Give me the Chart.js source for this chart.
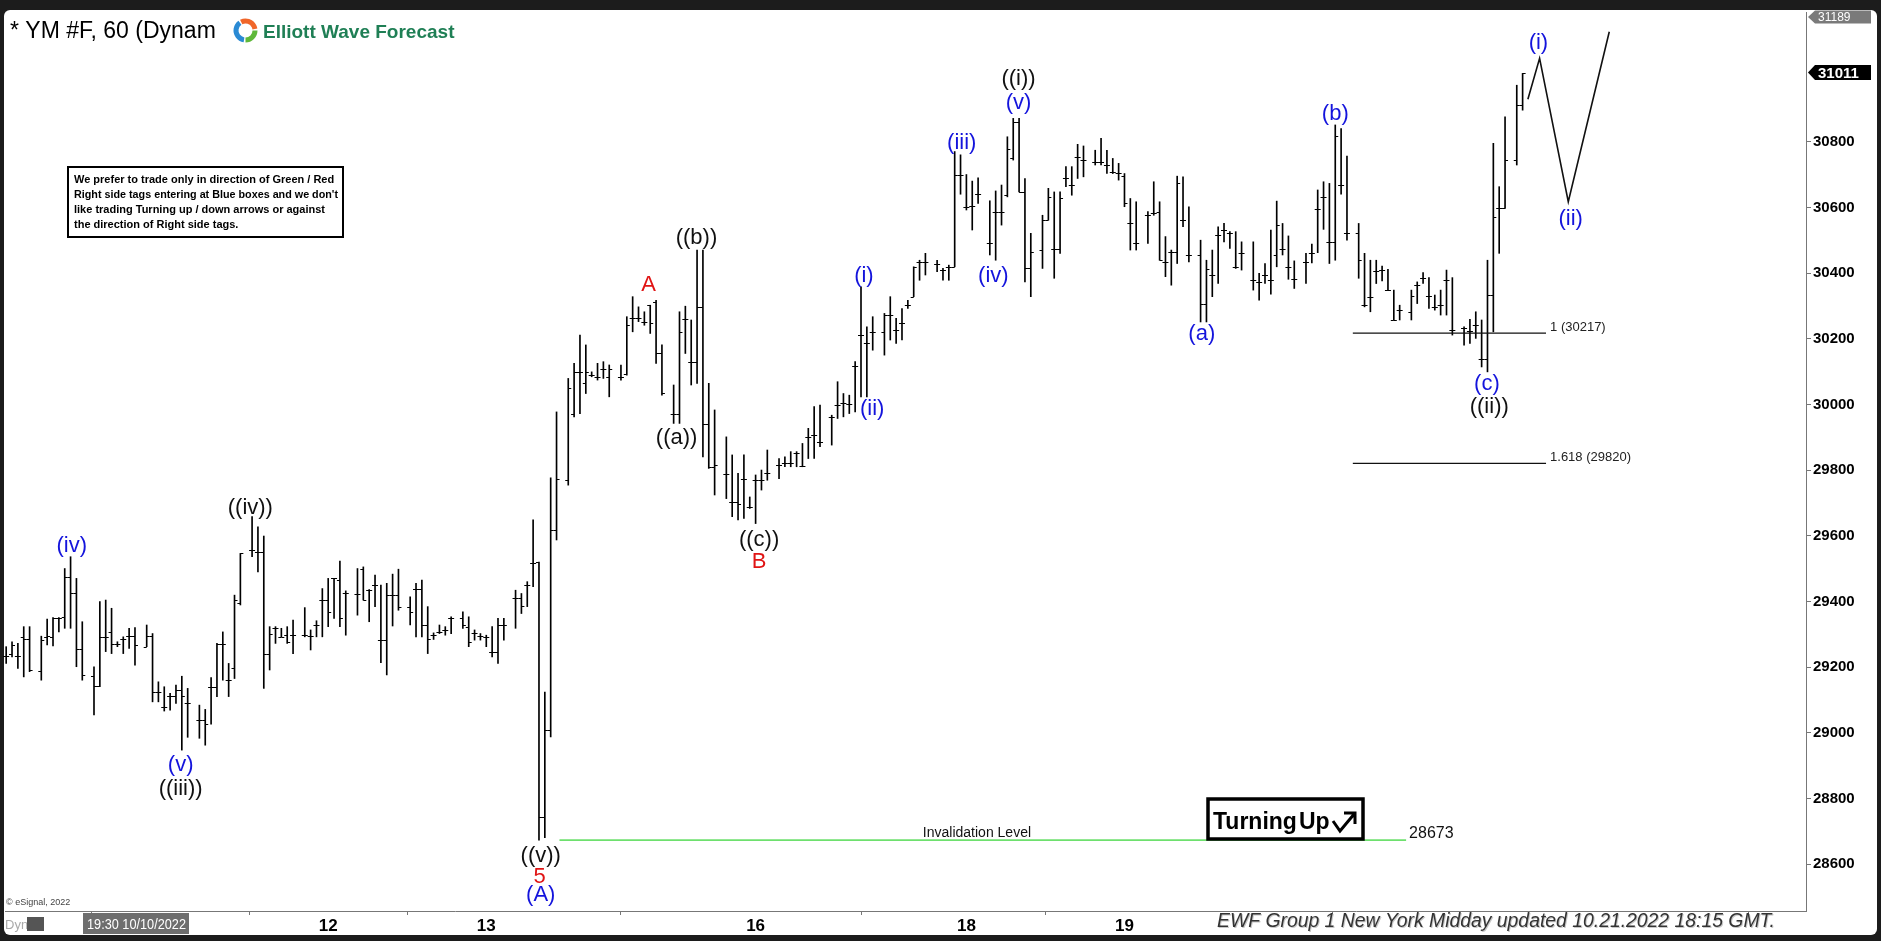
<!DOCTYPE html>
<html>
<head>
<meta charset="utf-8">
<title>YM #F, 60</title>
<script src="https://cdn.jsdelivr.net/npm/chart.js@4.4.1/dist/chart.umd.min.js"></script>
<style>
  html, body { margin: 0; padding: 0; background: #1c1c1c; overflow: hidden; }
  canvas { display: block; }
</style>
</head>
<body>
<canvas id="myChart" width="1881" height="941"></canvas>
<script>
// YM #F hourly bars (null = no bar printed at that slot)
const opens = [
  29233, 29239, 29233, 29290, 29284, null, 29189, 29290, 29292, 29348,
  29353, 29473, 29426, 29254, null, 29172, 29142, 29290, 29307, 29270,
  29284, 29294, 29294, null, 29262, 29294, 29125, 29079, 29112, 29112,
  29130, 29091, null, 29040, 29040, 29138, 29138, 29270, 29160, 29196,
  29394, null, 29556, 29551, 29551, 29241, 29318, 29292, 29297, 29297,
  null, 29297, 29294, 29328, 29404, 29404, 29470, 29465, 29424, null,
  29422, 29500, 29434, 29450, 29282, 29282, 29419, 29419, null, 29382,
  29439, 29439, 29328, 29297, 29307, 29313, 29348, null, 29348, 29323,
  29304, 29294, 29292, 29247, 29247, 29328, null, 29409, 29409, 29450,
  29516, 29520, 28743, 29008, 29617, null, 29771, 29972, 30099, 30064,
  30089, 30084, 30109, 30084, null, 30084, 30094, 30262, 30262, 30252,
  30302, 30312, 30155, null, 29972, 29972, 30259, 30130, 30130, 30297,
  29940, 29810, null, 29788, 29703, 29703, 29774, 29688, 29769, 29769,
  29790, null, 29815, 29820, 29820, 29851, 29813, 29901, 29906, 29886,
  null, 29962, 29998, 30003, 30001, 30117, 30211, 30186, 30221, null,
  30221, 30272, 30226, 30247, 30302, 30328, 30434, 30434, null, 30429,
  30409, 30419, 30419, 30700, 30602, 30604, 30640, null, 30490, 30587,
  30587, 30637, 30749, 30861, 30647, 30414, null, 30470, 30563, 30472,
  30472, 30688, 30668, 30752, 30744, null, 30739, 30739, 30729, 30708,
  30705, 30695, 30551, 30490, null, 30576, 30582, 30587, 30434, 30465,
  30465, 30561, 30455, null, 30455, 30307, 30394, 30516, 30531, 30523,
  30419, 30460, null, 30378, 30373, 30394, 30378, 30455, 30472, 30419,
  30383, null, 30434, 30462, 30594, 30632, 30495, 30495, 30668, 30521,
  null, 30523, 30302, 30328, 30407, 30409, 30348, 30257, 30287, null,
  30282, 30363, 30386, 30330, 30297, 30302, 30378, 30228, null, 30234,
  30224, 30241, 30137, 30137, 30333, 30597, 30597, null, 30744, 30911
];
const highs = [
  29262, 29277, 29272, 29323, 29323, null, 29294, 29346, 29351, 29351,
  29500, 29536, 29470, 29338, null, 29201, 29399, 29404, 29379, 29277,
  29292, 29318, 29320, null, 29328, 29302, 29155, 29140, 29120, 29145,
  29172, 29135, null, 29084, 29071, 29168, 29272, 29307, 29211, 29419,
  29546, null, 29658, 29627, 29599, 29323, 29323, 29318, 29323, 29343,
  null, 29381, 29313, 29341, 29439, 29470, 29470, 29523, 29432, null,
  29500, 29505, 29436, 29480, 29450, 29455, 29483, 29498, null, 29414,
  29455, 29465, 29384, 29304, 29328, 29323, 29353, null, 29368, 29353,
  29313, 29302, 29297, 29323, 29348, 29348, null, 29434, 29424, 29460,
  29648, 29520, 29124, 29776, 29977, null, 30079, 30125, 30211, 30181,
  30099, 30125, 30130, 30120, null, 30120, 30267, 30328, 30297, 30282,
  30302, 30317, 30181, null, 30059, 30282, 30299, 30257, 30470, 30470,
  30064, 29983, null, 29901, 29846, 29790, 29846, 29718, 29785, 29800,
  29861, null, 29835, 29840, 29856, 29856, 29881, 29927, 29993, 29998,
  null, 29967, 30069, 30033, 30028, 30130, 30358, 30236, 30267, null,
  30277, 30328, 30262, 30292, 30317, 30419, 30439, 30460, null, 30439,
  30414, 30424, 30770, 30760, 30700, 30680, 30690, null, 30620, 30650,
  30668, 30815, 30871, 30871, 30688, 30521, null, 30576, 30658, 30647,
  30647, 30724, 30724, 30792, 30787, null, 30774, 30810, 30774, 30749,
  30734, 30703, 30627, 30617, null, 30587, 30678, 30617, 30511, 30470,
  30695, 30693, 30602, null, 30500, 30439, 30470, 30541, 30551, 30526,
  30526, 30495, null, 30495, 30399, 30429, 30531, 30619, 30551, 30513,
  30437, null, 30460, 30488, 30653, 30678, 30673, 30851, 30840, 30756,
  null, 30551, 30460, 30439, 30439, 30421, 30411, 30348, 30302, null,
  30348, 30373, 30401, 30386, 30333, 30348, 30409, 30386, null, 30236,
  30259, 30282, 30257, 30439, 30795, 30663, 30876, null, 30972, 31008
];
const lows = [
  29211, 29231, 29196, 29170, 29186, null, 29160, 29267, 29264, 29307,
  29318, 29318, 29201, 29160, null, 29054, 29140, 29247, 29241, 29262,
  29241, 29257, 29206, null, 29262, 29094, 29094, 29066, 29069, 29089,
  28947, 28986, null, 28983, 28962, 29026, 29110, 29160, 29110, 29165,
  29389, null, 29536, 29490, 29135, 29191, 29272, 29292, 29272, 29241,
  null, 29292, 29252, 29292, 29292, 29323, 29348, 29323, 29297, null,
  29358, 29404, 29338, 29384, 29213, 29176, 29325, 29373, null, 29328,
  29292, 29292, 29241, 29284, 29302, 29297, 29302, null, 29318, 29262,
  29282, 29282, 29262, 29231, 29211, 29282, null, 29318, 29363, 29384,
  29445, 28673, 28680, 28987, 29587, null, 29754, 29962, 29972, 30033,
  30084, 30074, 30079, 30023, null, 30074, 30089, 30221, 30252, 30241,
  30216, 30125, 30028, null, 29942, 29942, 30155, 30059, 30064, 29840,
  29805, 29724, null, 29713, 29658, 29648, 29653, 29683, 29637, 29739,
  29769, null, 29774, 29810, 29810, 29810, 29810, 29835, 29835, 29871,
  null, 29876, 29957, 29962, 29972, 29977, 30023, 30023, 30165, null,
  30150, 30196, 30186, 30196, 30292, 30328, 30378, 30394, null, 30404,
  30378, 30378, 30419, 30640, 30592, 30531, 30612, null, 30455, 30439,
  30546, 30632, 30744, 30647, 30373, 30328, null, 30414, 30561, 30384,
  30460, 30663, 30637, 30688, 30693, null, 30729, 30729, 30703, 30703,
  30683, 30602, 30470, 30470, null, 30490, 30576, 30439, 30389, 30363,
  30429, 30541, 30434, null, 30251, 30251, 30328, 30368, 30495, 30475,
  30414, 30409, null, 30348, 30317, 30368, 30336, 30419, 30455, 30381,
  30353, null, 30368, 30431, 30462, 30533, 30429, 30439, 30640, 30500,
  null, 30384, 30297, 30282, 30368, 30376, 30348, 30257, 30257, null,
  30257, 30307, 30368, 30292, 30287, 30272, 30272, 30211, null, 30180,
  30186, 30201, 30114, 30099, 30221, 30460, 30597, null, 30729, 30896
];
const closes = [
  29233, 29267, 29233, 29284, 29191, null, 29282, 29294, 29348, 29348,
  29473, 29426, 29254, 29176, null, 29142, 29292, 29290, 29270, 29270,
  29284, 29294, 29267, null, 29294, 29125, 29125, 29079, 29112, 29130,
  29112, 29091, null, 29040, 29028, 29138, 29270, 29270, 29160, 29404,
  29546, null, 29556, 29551, 29241, 29302, 29318, 29292, 29277, 29297,
  null, 29297, 29294, 29328, 29404, 29368, 29470, 29348, 29424, null,
  29422, 29404, 29434, 29450, 29282, 29419, 29419, 29384, null, 29368,
  29439, 29328, 29284, 29297, 29307, 29313, 29348, null, 29328, 29277,
  29304, 29294, 29292, 29247, 29328, 29328, null, 29409, 29386, 29450,
  29516, 28743, 29008, 29617, 29772, null, 30049, 30099, 30099, 30099,
  30089, 30084, 30109, 30109, null, 30084, 30241, 30262, 30262, 30252,
  30247, 30155, 30035, null, 29972, 30221, 30259, 30130, 30297, 29940,
  29810, 29815, null, 29788, 29703, 29696, 29774, 29688, 29769, 29769,
  29790, null, 29815, 29820, 29820, 29851, 29813, 29901, 29906, 29886,
  null, 29962, 29998, 30003, 30001, 30117, 30211, 30186, 30221, null,
  30272, 30272, 30226, 30247, 30302, 30419, 30434, 30434, null, 30429,
  30409, 30419, 30700, 30700, 30602, 30604, 30640, null, 30490, 30587,
  30587, 30777, 30861, 30647, 30414, 30465, null, 30563, 30632, 30472,
  30627, 30688, 30668, 30752, 30744, null, 30739, 30739, 30729, 30708,
  30705, 30614, 30551, 30490, null, 30576, 30582, 30441, 30434, 30465,
  30675, 30561, 30455, null, 30307, 30411, 30394, 30516, 30531, 30523,
  30419, 30460, null, 30378, 30373, 30394, 30378, 30546, 30472, 30419,
  30383, null, 30434, 30462, 30594, 30632, 30495, 30817, 30668, 30521,
  null, 30441, 30302, 30328, 30407, 30409, 30348, 30257, 30287, null,
  30330, 30363, 30386, 30330, 30297, 30302, 30378, 30228, null, 30234,
  30224, 30241, 30137, 30333, 30571, 30597, 30744, null, 30911, 31008
];

// axes
const yTicks = [28600, 28800, 29000, 29200, 29400, 29600, 29800, 30000, 30200, 30400, 30600, 30800];
const xTickPos = [28, 55, 82, 128, 164, 191, 262];
const xTickLabels = ['', '12', '13', '16', '18', '19', ''];

// wave labels (bar index, price)
const waveText  = ['(iv)', '((iv))', '(v)', '((iii))', '((v))', '5', '(A)', 'A', '((b))', '((a))', '((c))', 'B',
                   '(i)', '(ii)', '(iii)', '(iv)', '(v)', '((i))', '(a)', '(b)', '(c)', '((ii))', '(i)', '(ii)'];
const waveIdx   = [11.2, 41.7, 29.8, 29.8, 91.3, 91.1, 91.3, 109.7, 117.9, 114.5, 128.6, 128.6,
                   146.5, 147.9, 163.2, 168.6, 172.9, 172.9, 204.2, 227.0, 252.9, 253.3, 261.7, 267.2];
const wavePrice = [29568, 29685, 28903, 28828, 28625, 28560, 28505, 30365, 30507, 29897, 29587, 29521,
                   30390, 29985, 30796, 30392, 30917, 30990, 30215, 30884, 30062, 29992, 31100, 30566];
const waveColor = ['b', 'k', 'b', 'k', 'k', 'r', 'b', 'r', 'k', 'k', 'k', 'r',
                   'b', 'b', 'b', 'b', 'b', 'k', 'b', 'b', 'b', 'k', 'b', 'b'];

// projected path (i) -> (ii) -> up
const projIdx = [259.9, 261.9, 266.8, 273.8];
const projPrice = [30929, 31054, 30617, 31135];

// extensions
const fibLevels = [30217, 29820];
const fibNames = ['1 (30217)', '1.618 (29820)'];
const fibFrom = 230, fibTo = 263;

const invalidLevel = 28673;
const invalidFrom = 94.5, invalidTo = 239.1;

const lastPrice = 31011, topPrice = 31189;

const barData = [];
for (let i = 0; i < highs.length; i++) {
  if (highs[i] == null) continue;
  barData.push({ x: i, y: [lows[i], highs[i]] });
}

const colorOf = { b: '#1414dc', k: '#111111', r: '#e01414' };

const background = {
  id: 'background',
  beforeDraw(chart) {
    const c = chart.ctx;
    c.save();
    c.fillStyle = '#1c1c1c';
    c.fillRect(0, 0, chart.width, chart.height);
    c.fillStyle = '#ffffff';
    c.beginPath();
    c.roundRect(4, 10, 1873, 925, 6);
    c.fill();
    c.restore();
  }
};

const ohlcTicks = {
  id: 'ohlcTicks',
  afterDatasetsDraw(chart) {
    const { ctx, scales: { x, y } } = chart;
    ctx.save();
    ctx.strokeStyle = '#000';
    ctx.lineWidth = 1;
    ctx.beginPath();
    for (let i = 0; i < opens.length; i++) {
      if (opens[i] == null) continue;
      const px = x.getPixelForValue(i);
      const yo = Math.round(y.getPixelForValue(opens[i])) + 0.5;
      const yc = Math.round(y.getPixelForValue(closes[i])) + 0.5;
      ctx.moveTo(px - 3, yo); ctx.lineTo(px, yo);
      ctx.moveTo(px, yc); ctx.lineTo(px + 3, yc);
    }
    ctx.stroke();
    ctx.restore();
  }
};

function tag(c, yc, h, fill, text, font) {
  c.fillStyle = fill;
  c.beginPath();
  c.moveTo(1808, yc);
  c.lineTo(1815, yc - h / 2);
  c.lineTo(1871, yc - h / 2);
  c.lineTo(1871, yc + h / 2);
  c.lineTo(1815, yc + h / 2);
  c.closePath();
  c.fill();
  c.fillStyle = '#fff';
  c.font = font;
  c.textAlign = 'left';
  c.textBaseline = 'middle';
  c.fillText(text, 1818, yc + 1);
}

const annotations = {
  id: 'annotations',
  afterDraw(chart) {
    const { ctx: c, scales: { x, y } } = chart;
    c.save();

    // title + logo
    c.fillStyle = '#000';
    c.font = '23px "Liberation Sans", Arial, sans-serif';
    c.textAlign = 'left';
    c.textBaseline = 'alphabetic';
    c.fillText('* YM #F, 60 (Dynam', 10, 38);
    const lx = 245.5, ly = 30.5;
    c.lineWidth = 5;
    [['#2a8ad4', 0.55, 1.3], ['#f0662a', 1.35, 1.95], ['#5fb83a', 0.0, 0.5]].forEach(([col, a0, a1]) => {
      c.strokeStyle = col;
      c.beginPath();
      c.arc(lx, ly, 9.5, a0 * Math.PI, a1 * Math.PI);
      c.stroke();
    });
    c.fillStyle = '#1f7f55';
    c.font = 'bold 19px "Liberation Sans", Arial, sans-serif';
    c.fillText('Elliott Wave Forecast', 263, 38);

    // notice box
    c.strokeStyle = '#000';
    c.lineWidth = 2;
    c.fillStyle = '#fff';
    c.fillRect(68, 167, 275, 70);
    c.strokeRect(68, 167, 275, 70);
    c.fillStyle = '#000';
    c.font = 'bold 11px "Liberation Sans", Arial, sans-serif';
    ['We prefer to trade only in direction of Green / Red',
     "Right side tags entering at Blue boxes and we don't",
     'like trading Turning up / down arrows or against',
     'the direction of Right side tags.'].forEach((t, k) => c.fillText(t, 74, 183 + k * 15, 264));

    // wave labels
    c.font = '22px "Liberation Sans", Arial, sans-serif';
    c.textAlign = 'center';
    c.textBaseline = 'middle';
    waveText.forEach((t, k) => {
      c.fillStyle = colorOf[waveColor[k]];
      c.fillText(t, x.getPixelForValue(waveIdx[k]), y.getPixelForValue(wavePrice[k]));
    });

    // extension labels
    c.fillStyle = '#222';
    c.font = '13px "Liberation Sans", Arial, sans-serif';
    c.textAlign = 'left';
    fibLevels.forEach((lv, k) => {
      c.fillText(fibNames[k], x.getPixelForValue(fibTo) + 4, y.getPixelForValue(lv) - 6);
    });

    // invalidation
    const iy = y.getPixelForValue(invalidLevel);
    c.textBaseline = 'alphabetic';
    c.font = '14px "Liberation Sans", Arial, sans-serif';
    c.fillStyle = '#111';
    c.textAlign = 'center';
    c.fillText('Invalidation Level', x.getPixelForValue(165.8), iy - 3);
    c.textAlign = 'left';
    c.font = '16px "Liberation Sans", Arial, sans-serif';
    c.fillText(String(invalidLevel), x.getPixelForValue(invalidTo) + 3, iy - 2);

    // Turning Up box
    c.fillStyle = '#fff';
    c.fillRect(1208, 799, 155, 40);
    c.lineWidth = 3.5;
    c.strokeStyle = '#000';
    c.strokeRect(1208, 799, 155, 40);
    c.fillStyle = '#000';
    c.font = 'bold 23px "Liberation Sans", Arial, sans-serif';
    c.fillText('Turning', 1213, 829);
    c.fillText('Up', 1299, 829);
    c.lineWidth = 3;
    c.beginPath();
    c.moveTo(1333, 821); c.lineTo(1340, 831); c.lineTo(1355, 813);
    c.moveTo(1344, 813); c.lineTo(1355, 813); c.lineTo(1355, 824);
    c.stroke();

    // top band over everything
    c.fillStyle = '#1c1c1c';
    c.fillRect(0, 0, chart.width, 10);

    // price tags on the right axis
    tag(c, Math.max(y.getPixelForValue(topPrice), 17), 13, '#7a7a7a', String(topPrice), '12px "Liberation Sans", Arial, sans-serif');
    tag(c, y.getPixelForValue(lastPrice), 15, '#000', String(lastPrice), 'bold 15px "Liberation Sans", Arial, sans-serif');

    // bottom strip
    c.textBaseline = 'alphabetic';
    c.fillStyle = '#444';
    c.font = '9px "Liberation Sans", Arial, sans-serif';
    c.textAlign = 'left';
    c.fillText('\u00a9 eSignal, 2022', 6, 905);
    c.fillStyle = '#aaa';
    c.font = '13px "Liberation Sans", Arial, sans-serif';
    c.fillText('Dyn', 5, 929);
    c.fillStyle = '#555';
    c.fillRect(27, 917, 17, 14);
    c.fillStyle = '#6e6e6e';
    c.fillRect(83, 913, 106, 21);
    c.fillStyle = '#fff';
    c.font = '15px "Liberation Sans", Arial, sans-serif';
    c.fillText('19:30 10/10/2022', 87, 929, 99);

    c.font = 'italic 20px "Liberation Sans", Arial, sans-serif';
    c.fillStyle = '#c8c8c8';
    c.fillText('EWF Group 1 New York Midday updated 10.21.2022 18:15 GMT.', 1218, 928, 558);
    c.fillStyle = '#333';
    c.fillText('EWF Group 1 New York Midday updated 10.21.2022 18:15 GMT.', 1217, 927, 558);

    c.restore();
  }
};

const ctx = document.getElementById('myChart');

new Chart(ctx, {
  type: 'bar',
  data: {
    datasets: [
      {
        label: 'YM #F',
        data: barData,
        backgroundColor: '#000',
        borderWidth: 0,
        barThickness: 1,
        grouped: false,
        order: 2
      },
      {
        type: 'line',
        label: 'projection',
        data: projIdx.map((v, k) => ({ x: v, y: projPrice[k] })),
        borderColor: '#111',
        borderWidth: 1.6,
        pointRadius: 0,
        tension: 0,
        order: 1
      },
      {
        type: 'line',
        label: fibNames[0],
        data: [{ x: fibFrom, y: fibLevels[0] }, { x: fibTo, y: fibLevels[0] }],
        borderColor: '#111',
        borderWidth: 1.2,
        pointRadius: 0,
        order: 1
      },
      {
        type: 'line',
        label: fibNames[1],
        data: [{ x: fibFrom, y: fibLevels[1] }, { x: fibTo, y: fibLevels[1] }],
        borderColor: '#111',
        borderWidth: 1.2,
        pointRadius: 0,
        order: 1
      },
      {
        type: 'line',
        label: 'Invalidation Level',
        data: [{ x: invalidFrom, y: invalidLevel }, { x: invalidTo, y: invalidLevel }],
        borderColor: '#6ee06e',
        borderWidth: 1.6,
        pointRadius: 0,
        order: 1
      }
    ]
  },
  options: {
    responsive: false,
    animation: false,
    events: [],
    layout: { padding: { left: 5, top: 12, right: 0, bottom: 0 } },
    scales: {
      x: {
        type: 'linear',
        min: -0.2,
        max: 307.4,
        offset: false,
        afterBuildTicks: (s) => { s.ticks = xTickPos.map(v => ({ value: v })); },
        afterFit: (s) => { s.height = 30; },
        ticks: {
          autoSkip: false,
          maxRotation: 0,
          padding: 1,
          color: '#000',
          font: { family: '"Liberation Sans Narrow", "Liberation Sans", Arial, sans-serif', size: 17, weight: 'bold' },
          callback: (v) => xTickLabels[xTickPos.indexOf(v)]
        },
        grid: { drawOnChartArea: false, tickLength: 4, color: '#777' },
        border: { color: '#777' }
      },
      y: {
        position: 'right',
        min: 28457,
        max: 31195,
        afterBuildTicks: (s) => { s.ticks = yTicks.map(v => ({ value: v })); },
        afterFit: (s) => { s.width = 75; },
        ticks: {
          padding: 2,
          color: '#000',
          font: { family: '"Liberation Sans", Arial, sans-serif', size: 15, weight: 'bold' },
          callback: (v) => String(v)
        },
        grid: { drawOnChartArea: false, tickLength: 5, color: '#777' },
        border: { color: '#777' }
      }
    },
    plugins: {
      legend: { display: false },
      tooltip: { enabled: false }
    }
  },
  plugins: [background, ohlcTicks, annotations]
});
</script>
</body>
</html>
